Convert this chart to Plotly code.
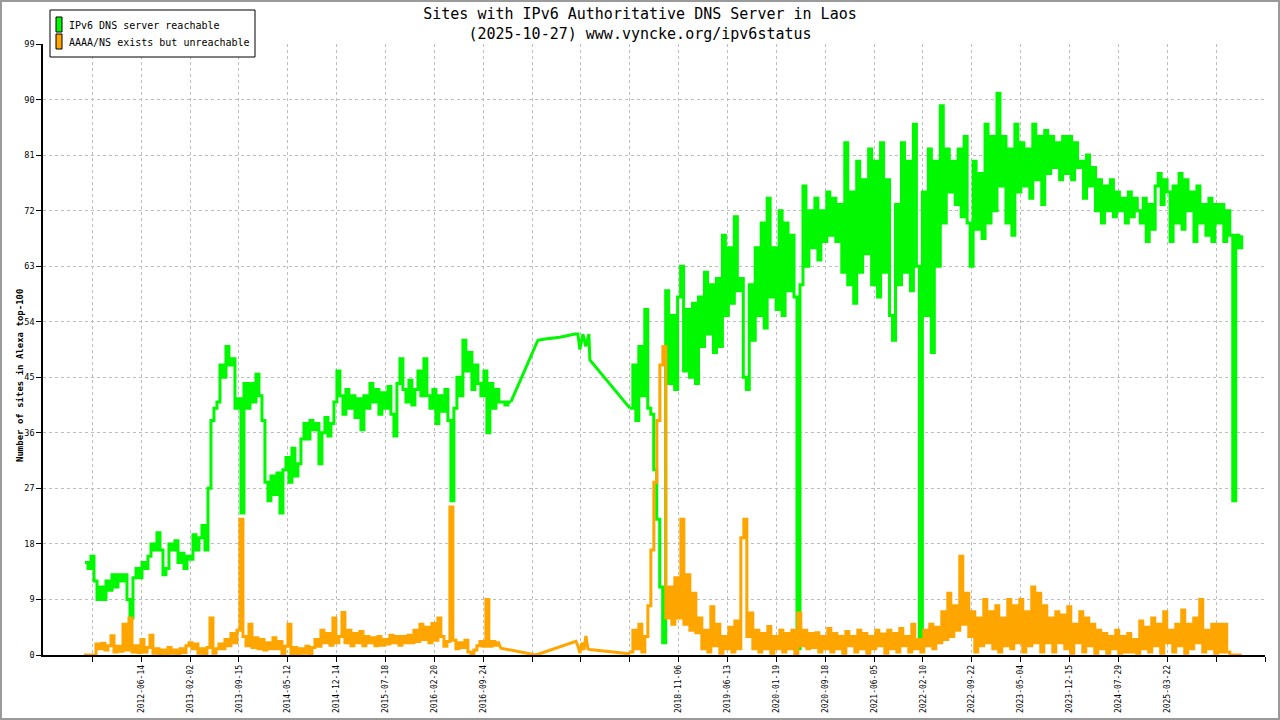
import numpy as np
import plotly.graph_objects as go

# ---------------- data (x in axis-tick units, y = number of sites) ----------------
tick_labels = ["", "2012-06-14", "2013-02-02", "2013-09-15", "2014-05-12", "2014-12-14",
               "2015-07-18", "2016-02-20", "2016-09-24", "", "", "", "2018-11-06",
               "2019-06-13", "2020-01-19", "2020-09-18", "2021-06-05", "2022-02-10",
               "2022-09-22", "2023-05-04", "2023-12-15", "2024-07-29", "2025-03-22", "", ""]
y_ticks = [0, 9, 18, 27, 36, 45, 54, 63, 72, 81, 90, 99]

# IPv6 DNS server reachable
green_a_span = (-0.1514, 8.5656)
green_a = [15, 14, 16, 12, 9, 11, 9, 12, 10.5, 13, 11, 13, 12, 13, 9, 6, 12.5, 14, 12.5, 15,
           14, 16, 18, 17, 19.8, 17, 13, 14, 18, 17, 18.5, 15, 16.5, 14, 16, 15.5, 19.5, 17, 19, 21,
           17, 27, 38, 40, 41, 47, 45, 50, 47, 48, 40, 41.5, 23, 44, 40, 44, 41, 45.5, 42, 38,
           28, 25, 29, 26, 29.5, 23, 30, 32, 28, 33.5, 29, 31, 35, 37.5, 35, 38, 36.5, 37.5, 31, 36,
           38.5, 35.5, 37.5, 41, 46, 42, 39, 43, 40, 42, 38.5, 41.5, 36.5, 42, 40, 44, 41, 43, 39, 42.5,
           40, 43.5, 39, 35.5, 44, 48, 43, 41, 44.5, 40.5, 43, 46, 42, 48, 42, 40, 43, 37.5, 42, 39.5,
           43, 38, 25, 40, 45, 42, 51, 46, 49, 43, 47, 44, 42, 46, 36, 44, 40, 43, 41, 41,
           40.5, 41, 41]
green_gap_t = [9.1181, 9.2613, 9.5682, 9.8752, 9.9366, 9.9775, 10.0389, 10.1003, 10.1617, 10.1821]
green_gap_v = [51, 51.2, 51.5, 52, 52, 49.5, 52, 50, 52, 47.8]
green_b_span = (11.0007, 23.5237)
green_b = [40, 47, 38, 50, 42, 56, 40, 39, 30, 22, 11, 2, 59, 44, 55, 43, 58, 63, 46, 56,
           45, 57, 44, 58, 50, 62, 52, 60, 49, 61, 50, 68, 55, 66, 57, 71, 59, 61, 45, 43,
           60, 51, 66, 55, 70, 53, 74, 58, 66, 56, 72, 55, 70, 59, 68, 58, 1, 60, 76, 63,
           72, 66, 74, 64, 72, 67, 75, 68, 74, 67, 73, 62, 83, 60, 75, 57, 80, 62, 77, 65,
           82, 60, 80, 58, 83, 62, 77, 55, 51, 73, 60, 83, 62, 80, 59, 86, 63, 2, 75, 55,
           82, 49, 80, 63, 89, 70, 82, 75, 80, 73, 82, 71, 84, 70, 63, 80, 69, 78, 67.5, 86,
           70, 84, 72, 91, 76, 84, 70, 82, 68, 86, 75, 83, 76, 82, 74, 86, 77, 84, 73, 85,
           78, 84, 79, 83, 77, 84, 78, 84, 77, 83, 79, 80, 74, 81, 76, 79, 72, 77, 70, 76,
           72, 77, 71, 75, 72, 74, 70, 75, 71, 74, 72, 70, 74, 67, 73, 69, 76, 78, 73, 77,
           75, 67, 76, 70, 78, 69, 77, 72, 75, 67, 76, 70, 73, 68, 74, 67, 73, 70, 73, 67,
           72, 68, 25, 68, 66, 68]

# AAAA/NS exists but unreachable
orange_a_span = (-0.1719, 8.2995)
orange_a = [0, 0, 0, 0, 1.8, 1, 1.9, 0.8, 1.5, 3.1, 0.5, 1.4, 0.6, 5, 0.8, 6, 0.5, 1.5, 0.4, 2.5,
            0.5, 1.2, 3.2, 0.3, 1, 0.2, 0.8, 0.1, 1.2, 0.3, 0.8, 0.2, 1, 0.4, 1.5, 2, 1, 1.8, 0.3, 1,
            0.2, 1.2, 6, 0.3, 1, 1.8, 1, 2.5, 1.5, 3.5, 2, 4, 22, 3, 1.5, 5, 1.2, 2.8, 1, 2.5,
            0.8, 2, 1, 2.8, 1, 2.2, 0.2, 1.4, 5, 0.2, 1.2, 0, 1, 0.3, 1.4, 0, 1.2, 2.5, 1.4, 4,
            2, 3.5, 1.6, 6, 2, 3, 6.9, 2, 4, 1.5, 3.5, 2, 3.8, 1.5, 3, 2, 2.8, 1.5, 3, 1.6,
            2.5, 1.8, 3.2, 2, 3, 1.6, 3, 2, 3.2, 2, 4, 2.2, 5, 2.5, 4.5, 2, 5.1, 2.4, 6, 3,
            1.4, 2.2, 24, 2.4, 1, 2, 1.2, 2.4, 0.5, 0, 0.8, 1.5, 2.2, 1.4, 9, 1.4, 2.2, 1.6, 2.2]
orange_gap_t = [8.3610, 9.0772, 9.8957, 9.9366, 9.9775, 10.0184, 10.0593, 10.1003, 10.1412,
                10.1821, 10.9802]
orange_gap_v = [1.1, 0, 2.2, 1.5, 0.3, 2, 0.8, 3.1, 1, 0.9, 0.2]
orange_b_span = (11.0007, 23.5237)
orange_b = [0.5, 4, 1, 5, 0.5, 3, 8, 17, 28, 38, 47, 50, 6, 11, 5, 12.5, 6, 22, 5, 13,
            4, 10, 3.6, 6, 1, 4, 0.5, 7.8, 1.5, 5, 0.3, 3, 1, 4.5, 0.5, 5.5, 1, 19, 22, 3,
            6.8, 1, 4, 0.5, 3.5, 1, 4.6, 0.3, 3, 1, 4, 0.5, 3.5, 1, 4, 0, 6.8, 1.5, 4, 1,
            3.5, 1.2, 3.6, 0.5, 3, 1, 4.3, 0.5, 3.5, 1, 3, 0.3, 3.8, 1.5, 3, 0.5, 4, 1, 3.5, 0.3,
            3, 1, 4, 1.5, 3.4, 0.3, 4, 1, 3.5, 0.5, 4.3, 1.5, 3, 0.5, 5, 1, 2.5, 0.5, 4, 1.5,
            5, 1, 4.5, 2, 7, 2.5, 10, 3, 8, 4, 16, 5, 10, 3, 7, 0.5, 6, 1.5, 9, 2,
            7, 1, 8, 0.5, 6, 1.5, 9, 1, 8, 2, 9, 0.5, 7, 1.5, 11, 2, 10, 0.5, 8, 2,
            6, 0.5, 7, 2, 6.5, 1, 7.8, 0.3, 5, 2, 7, 0.5, 6, 1.5, 5, 0.3, 4, 1, 3.5, 0.3,
            3, 1, 4, 0.3, 3, 0.5, 3.5, 0.5, 2.5, 0.3, 5.5, 1, 4.5, 0.5, 6, 1.5, 5, 0.3, 7, 2,
            4, 0.5, 5, 1.5, 7.3, 0.3, 5, 1, 6, 2, 9, 0.5, 4, 1, 5, 0.3, 5, 0.5, 5, 0.5,
            0, 0, 0, 0, 0]

GREEN = "#00f800"
ORANGE = "#ffa500"
MONO = "DejaVu Sans Mono, Liberation Mono, monospace"


def add_series(fig, name, color, span_a, vals_a, gap_t, gap_v, span_b, vals_b):
    xa = np.linspace(span_a[0], span_a[1], len(vals_a))
    xb = np.linspace(span_b[0], span_b[1], len(vals_b))
    # dense daily part before the data gap (drawn as steps)
    fig.add_trace(go.Scatter(x=xa, y=vals_a, mode="lines", name=name, legendgroup=name,
                             line=dict(color=color, width=3, shape="hv"), showlegend=False))
    # sparse measurements inside the gap (joined by straight lines)
    gx = np.concatenate([[xa[-1]], gap_t, [xb[0]]])
    gy = np.concatenate([[vals_a[-1]], gap_v, [vals_b[0]]])
    fig.add_trace(go.Scatter(x=gx, y=gy, mode="lines", name=name, legendgroup=name,
                             line=dict(color=color, width=3, shape="linear"), showlegend=False))
    # dense daily part after the gap
    fig.add_trace(go.Scatter(x=xb, y=vals_b, mode="lines", name=name, legendgroup=name,
                             line=dict(color=color, width=3, shape="hv"), showlegend=False))


fig = go.Figure()
add_series(fig, "IPv6 DNS server reachable", GREEN, green_a_span, green_a,
           green_gap_t, green_gap_v, green_b_span, green_b)
add_series(fig, "AAAA/NS exists but unreachable", ORANGE, orange_a_span, orange_a,
           orange_gap_t, orange_gap_v, orange_b_span, orange_b)

W, H = 1280, 720
ML, MR, MT, MB = 43, 15, 44, 65
PW, PH = W - ML - MR, H - MT - MB


def px(xp):
    return (xp - ML) / PW


def py(yp):
    return (H - MB - yp) / PH


fig.update_layout(
    width=W, height=H,
    margin=dict(l=ML, r=MR, t=MT, b=MB),
    paper_bgcolor="white", plot_bgcolor="white",
    font=dict(family=MONO, color="black", size=9),
    title=dict(text="Sites with IPv6 Authoritative DNS Server in Laos<br>(2025-10-27) www.vyncke.org/ipv6status",
               x=0.5, xref="container", xanchor="center",
               y=1 - 19 / H, yref="container", yanchor="bottom",
               font=dict(family=MONO, size=15, color="black")),
    xaxis=dict(range=[(ML - 92.4) / 48.87, 24], tickmode="array",
               tickvals=list(range(len(tick_labels))), ticktext=tick_labels,
               tickangle=-90, tickfont=dict(family=MONO, size=8),
               ticks="outside", ticklen=5, tickcolor="black",
               showline=True, linecolor="black", linewidth=1.5,
               showgrid=True, gridcolor="#bdbdbd", griddash="dot", gridwidth=1,
               zeroline=False, automargin=False, fixedrange=True),
    yaxis=dict(range=[0, 99], tickmode="array", tickvals=y_ticks,
               tickfont=dict(family=MONO, size=8.5),
               ticks="outside", ticklen=5, tickcolor="black",
               showline=True, linecolor="black", linewidth=1.5,
               showgrid=True, gridcolor="#bdbdbd", griddash="dot", gridwidth=1,
               zeroline=False, automargin=False, fixedrange=True),
)

# y-axis title
fig.add_annotation(text="<b>Number of sites in Alexa top-100</b>", textangle=-90,
                   xref="paper", yref="paper", x=px(13), y=py(376),
                   showarrow=False, font=dict(family=MONO, size=9, color="black"))

# legend box (manual, to get the narrow colour swatches of the original)
shapes = [
    dict(type="rect", xref="paper", yref="paper", x0=px(50), x1=px(255), y0=py(57), y1=py(10),
         line=dict(color="black", width=1), fillcolor="white", layer="above"),
    dict(type="rect", xref="paper", yref="paper", x0=px(56), x1=px(62), y0=py(32), y1=py(17),
         line=dict(color="black", width=1), fillcolor=GREEN, layer="above"),
    dict(type="rect", xref="paper", yref="paper", x0=px(56), x1=px(62), y0=py(49), y1=py(34),
         line=dict(color="black", width=1), fillcolor=ORANGE, layer="above"),
    # outer image frame
    dict(type="rect", xref="paper", yref="paper", x0=px(1), x1=px(W - 1), y0=py(H - 1), y1=py(1),
         line=dict(color="#9a9a9a", width=2), fillcolor="rgba(0,0,0,0)", layer="above"),
]
fig.update_layout(shapes=shapes)
fig.add_annotation(text="IPv6 DNS server reachable", xref="paper", yref="paper",
                   x=px(67), y=py(25), xanchor="left", yanchor="middle", showarrow=False,
                   font=dict(family=MONO, size=10, color="black"))
fig.add_annotation(text="AAAA/NS exists but unreachable", xref="paper", yref="paper",
                   x=px(67), y=py(42.5), xanchor="left", yanchor="middle", showarrow=False,
                   font=dict(family=MONO, size=10, color="black"))

fig.write_html("out.html", config={"displayModeBar": False},
               post_script="document.body.style.margin='0';document.body.style.padding='0';")
